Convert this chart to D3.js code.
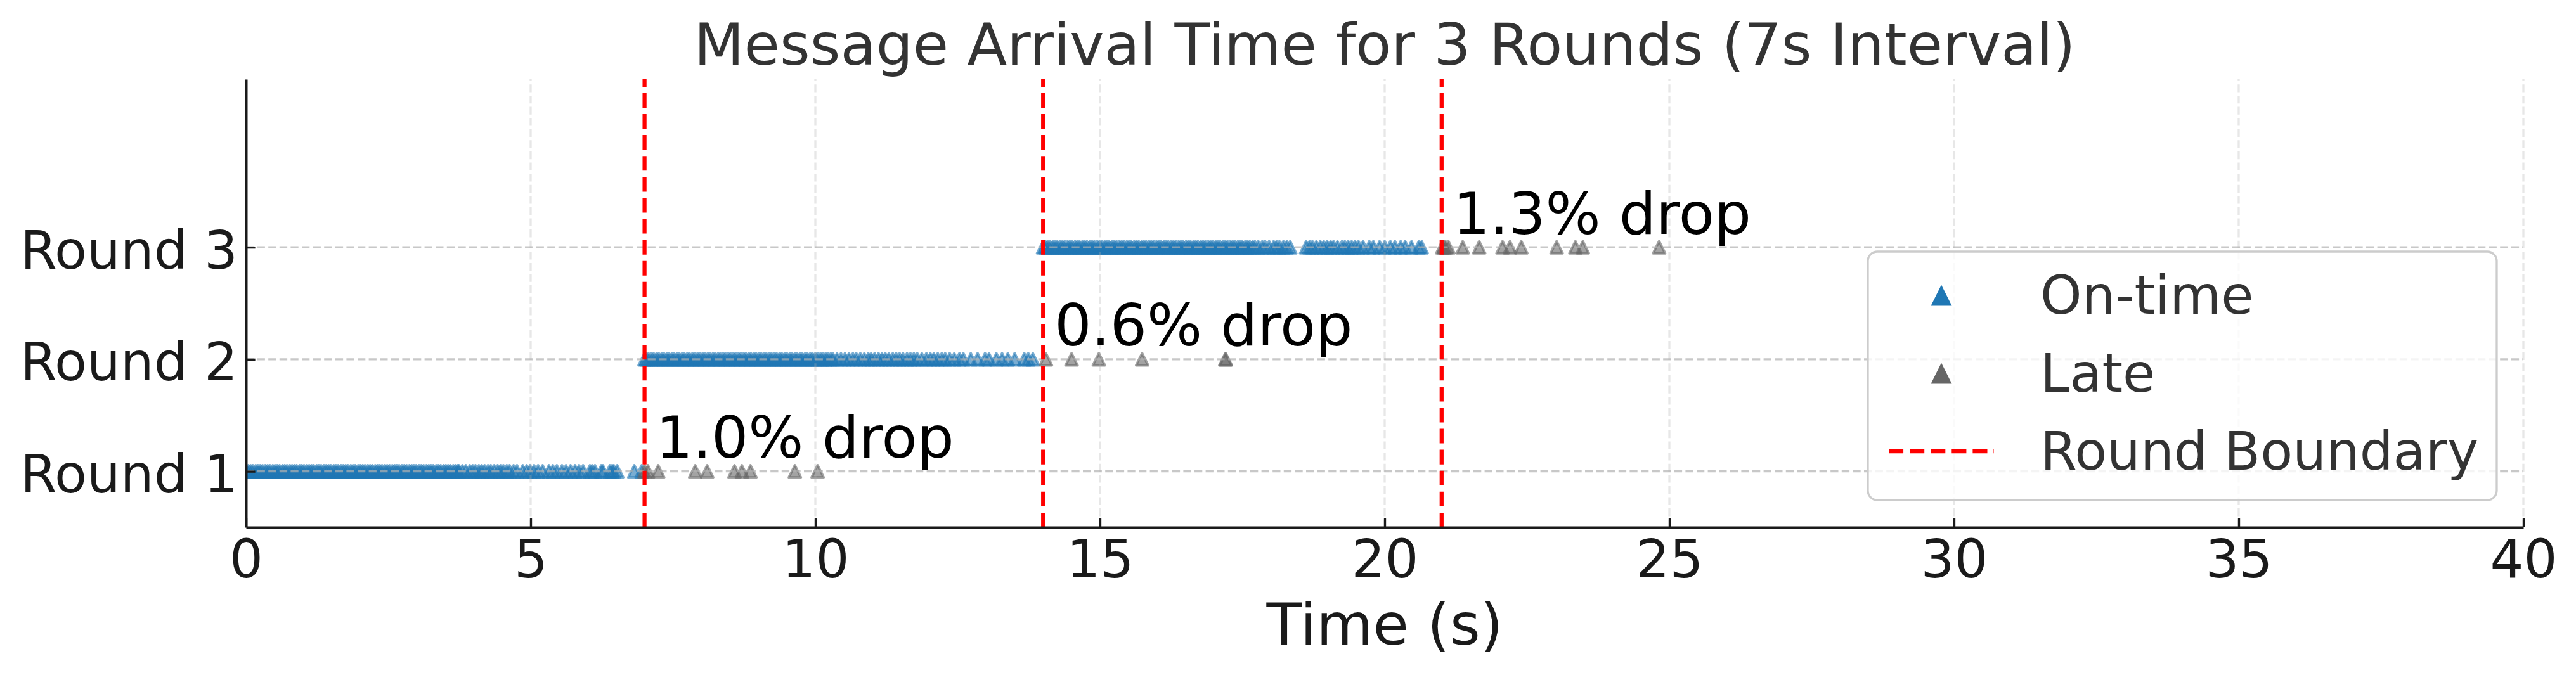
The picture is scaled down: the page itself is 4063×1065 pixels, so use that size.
<!DOCTYPE html>
<html>
<head>
<meta charset="utf-8">
<script src="https://cdn.jsdelivr.net/npm/d3@7"></script>
<style>
  body { margin: 0; background: #fff; }
  text { font-family: "DejaVu Sans", sans-serif; }
</style>
</head>
<body>
<svg id="chart" width="4063" height="1065"></svg>
<script>
// ---------------- DATA ----------------
const roundIds = [1, 2, 3];
const roundLabels = ["Round 1", "Round 2", "Round 3"];
const boundaries = [7, 14, 21];
const xTicks = [0, 5, 10, 15, 20, 25, 30, 35, 40];
const dropLabels = ["1.0% drop", "0.6% drop", "1.3% drop"];
const dropLabelX = [7.2, 14.2, 21.2];
const titleText = "Message Arrival Time for 3 Rounds (7s Interval)";
const xLabelText = "Time (s)";
const legendLabels = ["On-time", "Late", "Round Boundary"];

// on-time arrival times (s)
const onTimeR1 = [
  0.00, 0.04, 0.08, 0.12, 0.17, 0.21, 0.25, 0.29, 0.34, 0.38, 0.42, 0.47, 0.51, 0.55, 0.59, 0.64,
  0.68, 0.72, 0.77, 0.81, 0.85, 0.89, 0.94, 0.98, 1.02, 1.07, 1.11, 1.15, 1.19, 1.24, 1.28, 1.32,
  1.37, 1.41, 1.45, 1.49, 1.54, 1.58, 1.62, 1.67, 1.71, 1.75, 1.79, 1.84, 1.88, 1.92, 1.97, 2.01,
  2.05, 2.09, 2.14, 2.18, 2.22, 2.27, 2.31, 2.35, 2.39, 2.44, 2.48, 2.52, 2.57, 2.61, 2.65, 2.69,
  2.74, 2.78, 2.82, 2.87, 2.91, 2.95, 2.99, 3.04, 3.08, 3.12, 3.17, 3.21, 3.25, 3.29, 3.34, 3.38,
  3.42, 3.47, 3.51, 3.55, 3.59, 3.64, 3.68, 3.72,
  3.74, 3.80, 3.86, 3.93, 3.98, 4.03, 4.09, 4.14, 4.19, 4.25, 4.30, 4.36, 4.42, 4.47, 4.52, 4.58,
  4.63, 4.70, 4.76,
  4.86, 4.93, 4.99, 5.06, 5.13, 5.21, 5.32, 5.39, 5.46, 5.55, 5.62, 5.70, 5.78, 5.85, 5.92, 6.04,
  6.08, 6.13, 6.24, 6.27, 6.39, 6.43, 6.46, 6.52, 6.82, 6.95
];
const onTimeR2 = [
  7.00, 7.03, 7.07, 7.12, 7.16, 7.21, 7.25, 7.30, 7.34, 7.39, 7.43, 7.48, 7.52, 7.57, 7.61, 7.66,
  7.70, 7.75, 7.79, 7.84, 7.88, 7.93, 7.97, 8.02, 8.06, 8.11, 8.15, 8.20, 8.24, 8.29, 8.33, 8.38,
  8.42, 8.47, 8.51, 8.56, 8.60, 8.65, 8.69, 8.74, 8.78, 8.83, 8.87, 8.92, 8.96, 9.01, 9.05, 9.10,
  9.14, 9.19, 9.23, 9.28, 9.32, 9.37, 9.41, 9.46, 9.50, 9.55, 9.59, 9.64, 9.68, 9.73, 9.77, 9.82,
  9.86, 9.91, 9.95, 10.00, 10.04, 10.09, 10.13, 10.18, 10.22, 10.27, 10.31,
  10.38, 10.45, 10.52, 10.59, 10.66, 10.72, 10.79, 10.86, 10.93, 10.98, 11.04, 11.11, 11.17, 11.23,
  11.29, 11.36, 11.42, 11.48, 11.54, 11.61, 11.67, 11.73, 11.79, 11.87, 11.95, 12.02, 12.08, 12.15,
  12.22, 12.28, 12.36, 12.44,
  12.53, 12.60, 12.73, 12.85, 12.98, 13.05, 13.18, 13.28, 13.38, 13.50, 13.67, 13.74, 13.82
];
const onTimeR3 = [
  14.00, 14.04, 14.08, 14.12, 14.17, 14.21, 14.25, 14.30, 14.34, 14.38, 14.43, 14.47, 14.51, 14.56,
  14.60, 14.64, 14.69, 14.73, 14.77, 14.82, 14.86, 14.90, 14.95, 14.99, 15.03, 15.08, 15.12, 15.16,
  15.21, 15.25, 15.29, 15.34, 15.38, 15.42, 15.47, 15.51, 15.55, 15.60, 15.64, 15.68, 15.73, 15.77,
  15.81, 15.86, 15.90, 15.94, 15.99, 16.03, 16.07, 16.12, 16.16, 16.20, 16.25, 16.29, 16.33, 16.38,
  16.42, 16.46, 16.51, 16.55, 16.59, 16.64, 16.68, 16.72, 16.77, 16.81, 16.85, 16.90, 16.94, 16.98,
  17.03, 17.07, 17.11, 17.16, 17.20, 17.24, 17.29, 17.33, 17.37, 17.42, 17.46, 17.50, 17.55, 17.59,
  17.63, 17.68, 17.72,
  17.78, 17.85, 17.90, 17.97, 18.05, 18.10, 18.15, 18.22, 18.28, 18.34, 18.62, 18.68, 18.73, 18.80,
  18.87, 18.93, 18.99, 19.05, 19.10, 19.17, 19.25, 19.30, 19.36, 19.42, 19.48, 19.54, 19.62, 19.73,
  19.80, 19.91, 20.00, 20.10, 20.18, 20.28, 20.36, 20.47, 20.60, 20.65
];
// late arrival times (s)
const lateR1 = [7.00, 7.06, 7.24, 7.89, 8.10, 8.58, 8.71, 8.86, 9.64, 10.04];
const lateR2 = [14.05, 14.50, 14.98, 15.74, 17.20, 17.21];
const lateR3 = [21.01, 21.04, 21.07, 21.12, 21.37, 21.66, 22.07, 22.20, 22.40, 23.02, 23.35, 23.48, 24.82];

// ---------------- STYLE / LAYOUT ----------------
const W = 4063, H = 1065;
const plot = { left: 388, right: 3980, top: 125, bottom: 832 };
const C_ON = "#1f77b4", C_LATE = "#666666", C_RED = "#ff0000";
const TICK_FS = 83.3, BIG_FS = 91.7;

const svg = d3.select("#chart");
svg.append("rect").attr("width", W).attr("height", H).attr("fill", "#fff");

const x = d3.scaleLinear().domain([0, 40]).range([plot.left, plot.right]);
const y = d3.scaleLinear().domain([0.5, 4.5]).range([plot.bottom, plot.top]);

svg.append("defs").append("clipPath").attr("id", "clip")
  .append("rect").attr("x", plot.left).attr("y", plot.top)
  .attr("width", plot.right - plot.left).attr("height", plot.bottom - plot.top);

const tri = h => `M0,${-h}L${h},${h}L${-h},${h}Z`;

// scatter (below grid, like matplotlib)
const scat = svg.append("g").attr("clip-path", "url(#clip)");
const onTime = [onTimeR1, onTimeR2, onTimeR3];
const late = [lateR1, lateR2, lateR3];
function drawPts(arr, r, color) {
  scat.append("g").selectAll("path").data(arr).join("path")
    .attr("d", tri(9.5))
    .attr("transform", d => `translate(${x(d)},${y(r)})`)
    .attr("fill", color).attr("fill-opacity", 0.6)
    .attr("stroke", color).attr("stroke-opacity", 0.6)
    .attr("stroke-width", 4).attr("stroke-linejoin", "round");
}
roundIds.forEach((r, i) => { drawPts(onTime[i], r, C_ON); });
roundIds.forEach((r, i) => { drawPts(late[i], r, C_LATE); });

// grid
const grid = svg.append("g");
grid.selectAll("line.vg").data(xTicks).join("line").attr("class", "vg")
  .attr("x1", d => x(d)).attr("x2", d => x(d))
  .attr("y1", plot.bottom).attr("y2", plot.top)
  .attr("stroke", "#b0b0b0").attr("stroke-opacity", 0.3)
  .attr("stroke-width", 3.33).attr("stroke-dasharray", "12.3,5.3");
grid.selectAll("line.hg").data(roundIds).join("line").attr("class", "hg")
  .attr("x1", plot.left).attr("x2", plot.right)
  .attr("y1", d => y(d)).attr("y2", d => y(d))
  .attr("stroke", "#b0b0b0").attr("stroke-opacity", 0.7)
  .attr("stroke-width", 3.33).attr("stroke-dasharray", "12.3,5.3");

// round boundaries
svg.append("g").selectAll("line").data(boundaries).join("line")
  .attr("x1", d => x(d)).attr("x2", d => x(d))
  .attr("y1", plot.bottom).attr("y2", plot.top)
  .attr("stroke", C_RED).attr("stroke-width", 6.25)
  .attr("stroke-dasharray", "23.1,10");

// axes
const xAxis = d3.axisBottom(x).tickValues(xTicks).tickFormat(d3.format("d"))
  .tickSizeInner(-14.6).tickSizeOuter(0).tickPadding(0);
const gx = svg.append("g").attr("transform", `translate(0,${plot.bottom})`).call(xAxis);
gx.select(".domain").attr("stroke", "#1a1a1a").attr("stroke-width", 4);
gx.selectAll(".tick line").attr("stroke", "#1a1a1a").attr("stroke-width", 3.33);
gx.selectAll(".tick text").attr("y", 79).attr("dy", 0)
  .attr("font-size", TICK_FS).attr("fill", "#1a1a1a").attr("font-family", "DejaVu Sans");

const yAxis = d3.axisLeft(y).tickValues(roundIds).tickFormat(d => roundLabels[d - 1])
  .tickSizeInner(-14.6).tickSizeOuter(0).tickPadding(0);
const gy = svg.append("g").attr("transform", `translate(${plot.left},0)`).call(yAxis);
gy.select(".domain").attr("stroke", "#1a1a1a").attr("stroke-width", 4);
gy.selectAll(".tick line").attr("stroke", "#1a1a1a").attr("stroke-width", 3.33);
gy.selectAll(".tick text").attr("x", -13).attr("y", 33).attr("dy", 0)
  .attr("font-size", TICK_FS).attr("fill", "#1a1a1a").attr("font-family", "DejaVu Sans");

// drop annotations
svg.append("g").selectAll("text").data(roundIds).join("text")
  .attr("x", (d, i) => x(dropLabelX[i]))
  .attr("y", d => y(d) - 21.6)
  .attr("font-size", BIG_FS).attr("fill", "#000")
  .text((d, i) => dropLabels[i]);

// title and x label
svg.append("text").attr("x", (plot.left + plot.right) / 2).attr("y", 102)
  .attr("text-anchor", "middle").attr("font-size", BIG_FS).attr("fill", "#333333")
  .text(titleText);
svg.append("text").attr("x", (plot.left + plot.right) / 2).attr("y", 1017)
  .attr("text-anchor", "middle").attr("font-size", BIG_FS).attr("fill", "#1a1a1a")
  .text(xLabelText);

// legend
const lg = svg.append("g");
lg.append("rect").attr("x", 2946).attr("y", 397).attr("width", 992).attr("height", 392)
  .attr("rx", 15).attr("ry", 15)
  .attr("fill", "#fff").attr("fill-opacity", 0.8)
  .attr("stroke", "#cccccc").attr("stroke-width", 3.3);
const rowsY = [466, 589, 712];
const textX = 3218, handleCx = 3062;
lg.append("path").attr("d", tri(16.5)).attr("transform", `translate(${handleCx},${rowsY[0]})`).attr("fill", C_ON);
lg.append("path").attr("d", tri(16.5)).attr("transform", `translate(${handleCx},${rowsY[1]})`).attr("fill", C_LATE);
lg.append("line").attr("x1", 2979).attr("x2", 3145).attr("y1", rowsY[2]).attr("y2", rowsY[2])
  .attr("stroke", C_RED).attr("stroke-width", 6.25).attr("stroke-dasharray", "23.1,10");
lg.selectAll("text").data(legendLabels).join("text")
  .attr("x", textX).attr("y", (d, i) => rowsY[i] + 29)
  .attr("font-size", TICK_FS).attr("fill", "#333333")
  .text(d => d);
</script>
</body>
</html>
